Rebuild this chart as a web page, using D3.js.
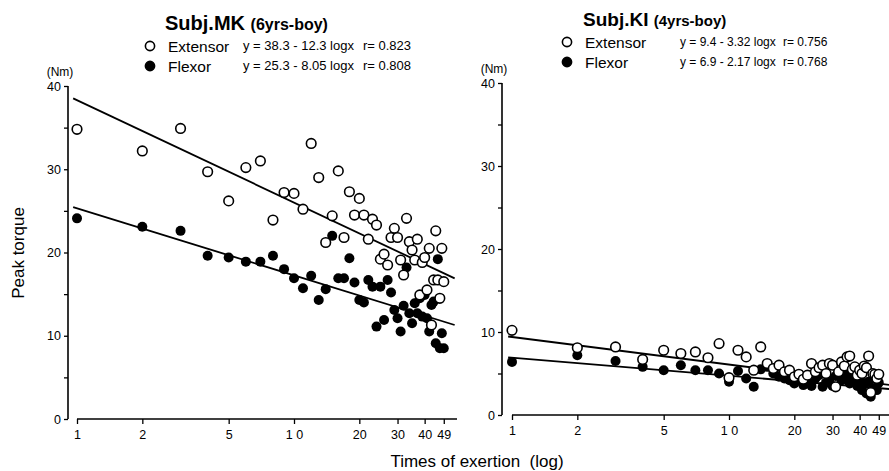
<!DOCTYPE html>
<html>
<head>
<meta charset="utf-8">
<script src="https://cdn.jsdelivr.net/npm/d3@7"></script>
<style>
  body { margin: 0; background: #fff; }
  svg { display: block; font-family: "Liberation Sans", Arial, sans-serif; }
</style>
</head>
<body>
<svg id="chart" width="889" height="471"></svg>
<script>
// trial numbers (times of exertion)
const trials = d3.range(1, 50);
const xTicks = [1, 2, 5, 10, 20, 30, 40, 49];
const yTicks = [0, 5, 10, 15, 20, 25, 30, 35, 40];

// Subj.MK peak torque (Nm)
const mkExtensor = [34.8, 32.2, 34.9, 29.7, 26.2, 30.2, 31.0, 23.9, 27.2, 27.1,
  25.2, 33.1, 29.0, 21.2, 24.4, 29.8, 21.8, 27.3, 24.5, 26.5,
  24.5, 21.6, 24.0, 23.3, 19.2, 19.8, 18.5, 21.8, 22.9, 21.8,
  19.1, 17.3, 24.1, 21.3, 20.3, 19.1, 21.6, 14.9, 18.8, 19.4,
  15.5, 20.5, 11.3, 16.7, 22.6, 16.7, 14.5, 20.5, 16.5];
const mkFlexor = [24.1, 23.1, 22.6, 19.6, 19.4, 18.9, 18.9, 19.6, 18.0, 16.9,
  15.7, 17.2, 14.3, 15.6, 22.0, 16.9, 16.9, 19.3, 16.4, 14.3,
  14.0, 16.7, 15.9, 11.1, 15.9, 11.9, 16.7, 15.2, 13.1, 12.1,
  10.5, 13.6, 18.2, 12.7, 11.5, 13.9, 12.7, 14.5, 12.3, 14.9,
  12.1, 10.5, 13.7, 14.1, 9.1, 19.2, 8.5, 10.3, 8.5];

// Subj.KI peak torque (Nm)
const kiExtensor = [10.2, 8.1, 8.2, 6.7, 7.8, 7.4, 7.6, 6.9, 8.6, 4.5,
  7.8, 7.0, 5.4, 8.2, 6.2, 5.6, 6.0, 5.2, 5.4, 4.6,
  4.9, 4.3, 4.8, 6.2, 5.2, 5.7, 6.0, 5.0, 6.2, 6.0,
  3.4, 5.2, 6.4, 5.9, 7.0, 7.1, 5.5, 5.8, 4.8, 5.4,
  5.0, 5.9, 5.7, 7.1, 2.7, 5.0, 4.9, 4.4, 4.9];
const kiFlexor = [6.4, 7.2, 6.5, 5.8, 5.4, 6.0, 5.4, 5.4, 5.0, 4.0,
  5.3, 4.4, 3.4, 5.5, 5.8, 5.0, 4.6, 4.4, 4.2, 3.8,
  4.5, 3.6, 4.0, 3.5, 4.4, 4.8, 3.4, 3.9, 4.3, 3.5,
  4.7, 5.0, 4.2, 5.3, 4.5, 3.8, 4.9, 4.1, 3.5, 4.4,
  3.0, 3.8, 2.6, 4.0, 2.2, 3.2, 4.5, 3.0, 3.9];

// regression y = a - b logx
const mkFits = [[38.3, 12.3], [25.3, 8.05]];
const kiFits = [[9.4, 3.32], [6.9, 2.17]];

const panels = [
  { title: "Subj.MK", sub: "(6yrs-boy)", ext: mkExtensor, flex: mkFlexor, fits: mkFits,
    eqs: ["y = 38.3 - 12.3 logx", "y = 25.3 - 8.05 logx"], rs: ["r= 0.823", "r= 0.808"],
    x0: 77, axisX: 68, y0: 419, y40: 86, xEnd: 457, fitEnd: 55,
    titleX: 165, titleY: 30, titleFs: 20, subFs: 16, eqFs: 13,
    legX: 150, legY: 46, eqX: 243, rX: 363 },
  { title: "Subj.KI", sub: "(4yrs-boy)", ext: kiExtensor, flex: kiFlexor, fits: kiFits,
    eqs: ["y = 9.4 - 3.32 logx", "y = 6.9 - 2.17 logx"], rs: ["r= 0.756", "r= 0.768"],
    x0: 512, axisX: 502, y0: 415, y40: 83, xEnd: 889, fitEnd: 60,
    titleX: 583, titleY: 26, titleFs: 19, subFs: 15, eqFs: 12,
    legX: 567, legY: 42, eqX: 680, rX: 783 }
];

const svg = d3.select("#chart");

panels.forEach(p => {
  const x = d3.scaleLog().domain([1, 100]).range([p.x0, p.x0 + 434]);
  const y = d3.scaleLinear().domain([0, 40]).range([p.y0, p.y40]);
  const g = svg.append("g");

  // y axis
  const yAxis = d3.axisLeft(y)
    .tickValues(yTicks)
    .tickSize(4)
    .tickPadding(3)
    .tickFormat(d => d % 10 === 0 ? d : "");
  const ya = g.append("g").attr("transform", `translate(${p.axisX},0)`).call(yAxis);
  ya.select(".domain").remove();
  ya.selectAll("text").attr("font-size", 12.5).attr("font-family", "Liberation Sans, Arial").attr("fill", "#000");
  ya.selectAll("line").attr("stroke", "#000").attr("stroke-width", 1.3);
  g.append("line")
    .attr("x1", p.axisX).attr("x2", p.axisX)
    .attr("y1", y(40)).attr("y2", y(0))
    .attr("stroke", "#000").attr("stroke-width", 1.6);

  // x axis
  const xAxis = d3.axisBottom(x)
    .tickValues(xTicks)
    .tickSize(5)
    .tickPadding(6)
    .tickFormat(d => d === 10 ? "1 0" : d);
  const xa = g.append("g").attr("transform", `translate(0,${p.y0})`).call(xAxis);
  xa.select(".domain").remove();
  xa.selectAll("text").attr("font-size", 12.5).attr("font-family", "Liberation Sans, Arial").attr("fill", "#000");
  xa.selectAll("line").attr("stroke", "#000").attr("stroke-width", 1.3);
  g.append("line")
    .attr("x1", x(1)).attr("x2", p.xEnd)
    .attr("y1", p.y0).attr("y2", p.y0)
    .attr("stroke", "#000").attr("stroke-width", 1.6);

  g.append("text")
    .attr("x", p.axisX - 8).attr("y", p.y40 - 10)
    .attr("text-anchor", "middle").attr("font-size", 12)
    .text("(Nm)");

  // regression lines
  const line = d3.line().x(d => x(d[0])).y(d => y(d[1]));
  p.fits.forEach(([a, b]) => {
    const xs = [0.96, p.fitEnd];
    g.append("path")
      .attr("d", line(xs.map(v => [v, a - b * Math.log10(v)])))
      .attr("fill", "none").attr("stroke", "#000").attr("stroke-width", 1.8);
  });

  // points
  g.append("g").selectAll("circle")
    .data(p.flex)
    .join("circle")
    .attr("cx", (d, i) => x(trials[i]))
    .attr("cy", d => y(d))
    .attr("r", 5)
    .attr("fill", "#000");
  g.append("g").selectAll("circle")
    .data(p.ext)
    .join("circle")
    .attr("cx", (d, i) => x(trials[i]))
    .attr("cy", d => y(d))
    .attr("r", 4.8)
    .attr("fill", "#fff")
    .attr("stroke", "#000")
    .attr("stroke-width", 1.6);

  // title
  const t = g.append("text").attr("x", p.titleX).attr("y", p.titleY);
  t.append("tspan").attr("font-size", p.titleFs).attr("font-weight", "bold").text(p.title + " ");
  t.append("tspan").attr("font-size", p.subFs).attr("font-weight", "bold").text(p.sub);

  // legend
  ["Extensor", "Flexor"].forEach((name, i) => {
    const ly = p.legY + i * 20;
    g.append("circle")
      .attr("cx", p.legX).attr("cy", ly)
      .attr("r", 4.6)
      .attr("fill", i ? "#000" : "#fff")
      .attr("stroke", "#000").attr("stroke-width", 1.6);
    g.append("text").attr("x", p.legX + 18).attr("y", ly + 5.5)
      .attr("font-size", 15.5).text(name);
    g.append("text").attr("x", p.eqX).attr("y", ly + 4)
      .attr("font-size", p.eqFs).text(p.eqs[i]);
    g.append("text").attr("x", p.rX).attr("y", ly + 4)
      .attr("font-size", p.eqFs).text(p.rs[i]);
  });
});

svg.append("text")
  .attr("transform", "translate(24,253) rotate(-90)")
  .attr("text-anchor", "middle")
  .attr("font-size", 17)
  .text("Peak torque");

svg.append("text")
  .attr("x", 477).attr("y", 467)
  .attr("text-anchor", "middle")
  .attr("font-size", 17)
  .attr("xml:space", "preserve")
  .style("white-space", "pre")
  .text("Times of exertion  (log)");
</script>
</body>
</html>
